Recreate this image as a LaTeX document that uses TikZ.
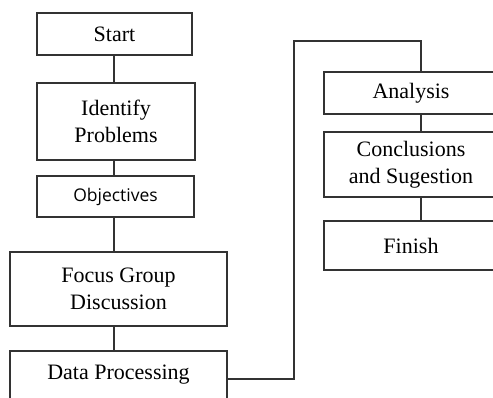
\documentclass[tikz,border=0pt]{standalone}
\usepackage{fontspec}
\setmainfont{Liberation Serif}
\newfontfamily\objfont{Open Sans}
\tikzset{
  x=1pt, y=-1pt,
  flowbox/.style={draw=black!80, line width=1.2pt, rectangle, inner sep=0pt,
    align=center, font=\fontsize{22}{26.5}\selectfont, text=black},
  link/.style={draw=black!80, line width=1.2pt},
}
\begin{document}
\begin{tikzpicture}
\useasboundingbox (0,0) rectangle (493,398);
\begin{scope}
\clip (0,0) rectangle (493,398);
% left column
\node[flowbox, minimum width=155pt, minimum height=42pt] (start) at (114.5,34) {Start};
\node[flowbox, minimum width=158pt, minimum height=77pt] (ident) at (116,121.5) {Identify\\Problems};
\node[flowbox, minimum width=157pt, minimum height=41pt, font=\objfont\fontsize{17.5}{20}\selectfont] (obj) at (115.5,196.5) {Objectives};
\node[flowbox, minimum width=217pt, minimum height=74pt] (fgd) at (118.5,289) {Focus Group\\Discussion};
\node[flowbox, minimum width=217pt, minimum height=48pt] (dp) at (118.5,375) {Data Processing};
% right column
\node[flowbox, minimum width=174pt, minimum height=42pt] (ana) at (411,93) {Analysis};
\node[flowbox, minimum width=174pt, minimum height=65pt] (conc) at (411,164.5) {Conclusions\\and Sugestion};
\node[flowbox, minimum width=174pt, minimum height=49pt] (fin) at (411,245.5) {Finish};
% connector corners
\coordinate (lx) at (114,0);
\coordinate (rx) at (421,0);
\coordinate (j1) at (294,379);
\coordinate (j2) at (294,41);
\coordinate (j3) at (421,41);
% connectors
\draw[link] (start.south -| lx) -- (ident.north -| lx);
\draw[link] (ident.south -| lx) -- (obj.north -| lx);
\draw[link] (obj.south -| lx) -- (fgd.north -| lx);
\draw[link] (fgd.south -| lx) -- (dp.north -| lx);
\draw[link] (dp.east |- j1) -- (j1) -- (j2) -- (j3) -- (ana.north -| rx);
\draw[link] (ana.south -| rx) -- (conc.north -| rx);
\draw[link] (conc.south -| rx) -- (fin.north -| rx);
\end{scope}
\end{tikzpicture}
\end{document}
